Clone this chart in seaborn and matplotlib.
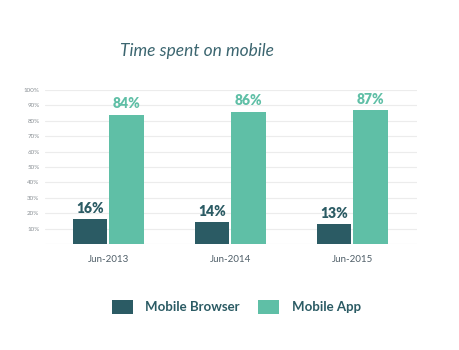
import matplotlib
matplotlib.use("Agg")
import matplotlib.pyplot as plt
import seaborn as sns
import pandas as pd

categories = ["Jun-2013", "Jun-2014", "Jun-2015"]
browser = [16, 14, 13]
app = [84, 86, 87]
series_names = ["Mobile Browser", "Mobile App"]
yticks = [10, 20, 30, 40, 50, 60, 70, 80, 90, 100]

c_browser = "#2b5b64"
c_app = "#5fbfa6"

df = pd.DataFrame({
    "period": categories * 2,
    "value": browser + app,
    "series": [series_names[0]] * 3 + [series_names[1]] * 3,
})

sns.set_theme(style="white")
plt.rcParams["font.family"] = ["Lato", "DejaVu Sans"]

fig = plt.figure(figsize=(4.59, 3.5), dpi=100)
ax = fig.add_axes([0.098, 0.303, 0.81, 0.44])

sns.barplot(data=df, x="period", y="value", hue="series",
            palette=[c_browser, c_app], width=0.6, gap=0.06,
            ax=ax, saturation=1, linewidth=0)

ax.set_ylim(0, 100)
ax.set_xlim(-0.52, 2.53)
ax.set_yticks(yticks)
ax.set_yticklabels([f"{v}%" for v in yticks], fontsize=4.5, color="#8a9095")
ax.yaxis.grid(True, color="#ececec", linewidth=0.8)
ax.set_axisbelow(True)
ax.tick_params(axis="x", labelsize=7, colors="#4f5e68", length=0, pad=8)
ax.tick_params(axis="y", length=0, pad=4)
ax.set_xlabel("")
ax.set_ylabel("")
for s in ax.spines.values():
    s.set_visible(False)
ax.axhline(0, color="#ececec", linewidth=0.8, zorder=0)

for cont, col in zip(ax.containers, [c_browser, c_app]):
    ax.bar_label(cont, labels=[f"{int(v)}%" for v in cont.datavalues],
                 padding=3, fontsize=10, fontweight="heavy", color=col)

fig.text(0.43, 0.855, "Time spent on mobile", fontsize=12.5, style="italic",
         color="#3c6670", ha="center", va="center")

sns.move_legend(ax, loc="center", bbox_to_anchor=(0.515, 0.123),
                bbox_transform=fig.transFigure, ncol=2, frameon=False,
                title=None, fontsize=9.5, handlelength=1.6, handleheight=1.3,
                handletextpad=0.95, columnspacing=1.4)
for t in ax.get_legend().get_texts():
    t.set_color("#2b5b64")
    t.set_fontweight("bold")

fig.savefig("out.png", dpi=100)
